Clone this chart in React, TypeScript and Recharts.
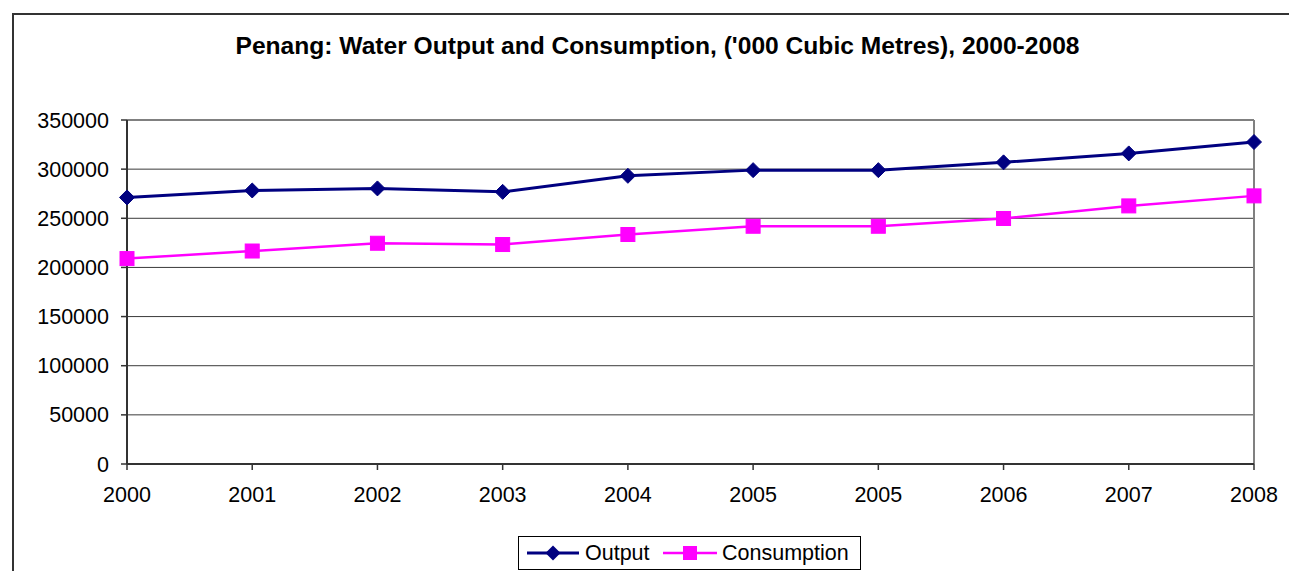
import React from "react";
import {
  LineChart,
  Line,
  XAxis,
  YAxis,
  CartesianGrid,
  Legend,
  ReferenceLine,
} from "recharts";

const title = "Penang: Water Output and Consumption, ('000 Cubic Metres), 2000-2008";
const categories = ["2000", "2001", "2002", "2003", "2004", "2005", "2005", "2006", "2007", "2008"];
const outputValues = [271200, 278300, 280400, 276900, 293200, 299000, 299000, 306900, 316000, 327600];
const consumptionValues = [209000, 216700, 224600, 223300, 233500, 241900, 241900, 249800, 262600, 272800];
const yTicks = [0, 50000, 100000, 150000, 200000, 250000, 300000, 350000];
const seriesNames = ["Output", "Consumption"];

const OUTPUT_COLOR = "#000080";
const CONS_COLOR = "#FF00FF";
const FONT = "Arial, 'Liberation Sans', sans-serif";

const data = categories.map((c, i) => ({
  year: c,
  output: outputValues[i],
  consumption: consumptionValues[i],
}));

const DiamondDot = (props: any) => {
  const { cx, cy, index } = props;
  if (cx == null || cy == null) return null;
  const r = 7.5;
  return (
    <polygon
      key={`d-${index}`}
      points={`${cx},${cy - r} ${cx + r},${cy} ${cx},${cy + r} ${cx - r},${cy}`}
      fill={OUTPUT_COLOR}
      stroke={OUTPUT_COLOR}
      strokeWidth={1}
    />
  );
};

const SquareDot = (props: any) => {
  const { cx, cy, index } = props;
  if (cx == null || cy == null) return null;
  const s = 14;
  return (
    <rect
      key={`s-${index}`}
      x={cx - s / 2}
      y={cy - s / 2}
      width={s}
      height={s}
      fill={CONS_COLOR}
      stroke={CONS_COLOR}
      strokeWidth={1}
    />
  );
};

const LegendContent = () => (
  <div
    style={{
      position: "relative",
      width: 343,
      height: 34,
      boxSizing: "border-box",
      border: "1px solid #000",
      background: "#fff",
      fontFamily: FONT,
      fontSize: 21.5,
      color: "#000",
    }}
  >
    <svg width={343} height={34} style={{ position: "absolute", left: -1, top: -1 }}>
      <line x1={9} y1={17} x2={61} y2={17} stroke={OUTPUT_COLOR} strokeWidth={3} />
      <polygon points={`35,9.5 42.5,17 35,24.5 27.5,17`} fill={OUTPUT_COLOR} />
      <line x1={145} y1={17} x2={199} y2={17} stroke={CONS_COLOR} strokeWidth={2.5} />
      <rect x={165} y={10} width={14} height={14} fill={CONS_COLOR} />
    </svg>
    <span style={{ position: "absolute", left: 66, top: 4, lineHeight: "25px", whiteSpace: "nowrap" }}>
      {seriesNames[0]}
    </span>
    <span style={{ position: "absolute", left: 203, top: 4, lineHeight: "25px", whiteSpace: "nowrap" }}>
      {seriesNames[1]}
    </span>
  </div>
);

export default function App() {
  return (
    <div
      style={{
        position: "fixed",
        left: 0,
        top: 0,
        width: 1289,
        height: 571,
        overflow: "hidden",
        background: "#fff",
      }}
    >
      <div
        style={{
          position: "absolute",
          left: 12,
          top: 13,
          width: 2000,
          height: 2000,
          border: "2px solid #333",
        }}
      />
      <div
        style={{
          position: "absolute",
          left: 0,
          width: 1315,
          top: 34,
          textAlign: "center",
          fontFamily: FONT,
          fontWeight: "bold",
          fontSize: 24.6,
          lineHeight: "24.6px",
          color: "#000",
          whiteSpace: "nowrap",
        }}
      >
        {title}
      </div>
      <div style={{ position: "absolute", left: 0, top: 0 }}>
        <LineChart
          width={1289}
          height={571}
          data={data}
          margin={{ top: 120, right: 35, left: 0, bottom: 13 }}
        >
          <CartesianGrid vertical={false} stroke="#3a3a3a" strokeWidth={1} />
          <CartesianGrid
            horizontal={false}
            stroke="#808080"
            strokeWidth={2}
            verticalCoordinatesGenerator={({ offset }: any) => [offset.left + offset.width]}
          />
          <ReferenceLine y={350000} stroke="#808080" strokeWidth={2} />
          <XAxis
            dataKey="year"
            allowDuplicatedCategory={true}
            height={60}
            tickSize={6}
            tickMargin={17}
            axisLine={{ stroke: "#333", strokeWidth: 2 }}
            tickLine={{ stroke: "#333", strokeWidth: 1.5 }}
            tick={{ fill: "#000", fontSize: 21.5, fontFamily: FONT }}
            interval={0}
          />
          <YAxis
            width={127}
            domain={[0, 350000]}
            ticks={yTicks}
            tickSize={6}
            tickMargin={12}
            axisLine={{ stroke: "#333", strokeWidth: 2 }}
            tickLine={{ stroke: "#333", strokeWidth: 1.5 }}
            tick={{ fill: "#000", fontSize: 21.5, fontFamily: FONT }}
            interval={0}
          />
          <Legend
            verticalAlign="bottom"
            content={<LegendContent />}
            wrapperStyle={{ left: 518, top: 536, width: 343, height: 34 }}
          />
          <Line
            type="linear"
            dataKey="output"
            name={seriesNames[0]}
            stroke={OUTPUT_COLOR}
            strokeWidth={3}
            dot={<DiamondDot />}
            activeDot={false}
            isAnimationActive={false}
          />
          <Line
            type="linear"
            dataKey="consumption"
            name={seriesNames[1]}
            stroke={CONS_COLOR}
            strokeWidth={2.5}
            dot={<SquareDot />}
            activeDot={false}
            isAnimationActive={false}
          />
        </LineChart>
      </div>
    </div>
  );
}
